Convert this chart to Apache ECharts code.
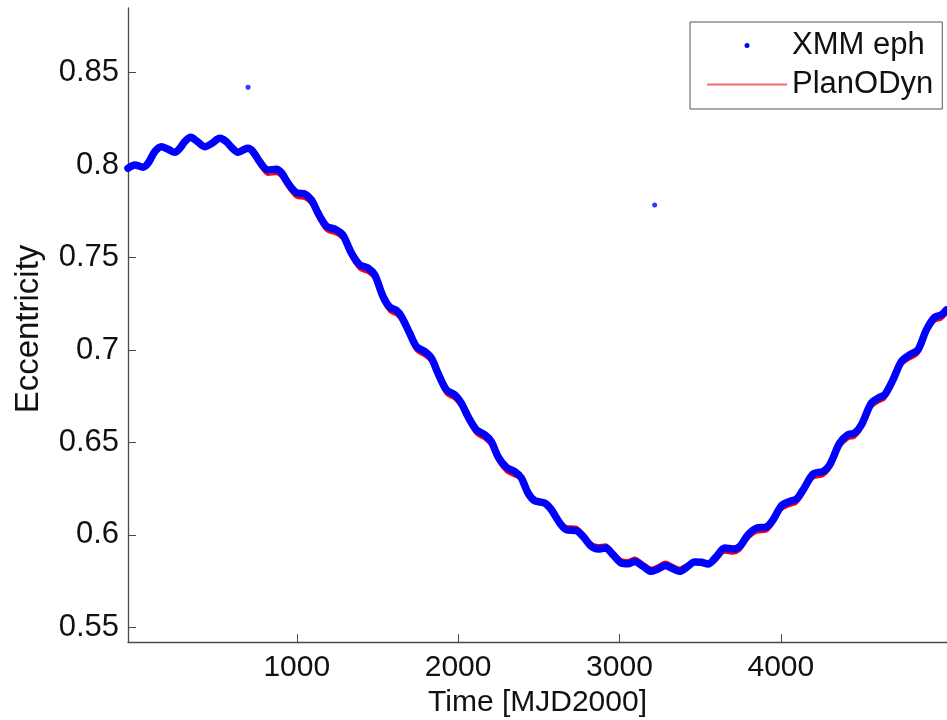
<!DOCTYPE html>
<html>
<head>
<meta charset="utf-8">
<script src="https://cdn.jsdelivr.net/npm/echarts@6/dist/echarts.min.js"></script>
<style>
html,body{margin:0;padding:0;background:#fff;}
#chart{width:947px;height:720px;}
</style>
</head>
<body>
<div id="chart"></div>
<script>
// Time [MJD2000]
var timeMJD = [-46,-4,47,78,120,161,202,244,275,306,343,378,430,475,522,564,595,636,667,698,729,770,822,874,905,946,998,1049,1091,1132,1184,1241,1285,1339,1390,1442,1483,1535,1576,1618,1649,1700,1742,1793,1835,1875,1927,1979,2020,2061,2113,2165,2206,2247,2299,2351,2392,2433,2475,2537,2578,2630,2671,2733,2774,2826,2867,2915,2960,3012,3053,3094,3146,3198,3239,3285,3332,3373,3415,3466,3508,3549,3597,3652,3704,3745,3797,3849,3911,3952,4004,4055,4097,4138,4200,4262,4303,4365,4417,4458,4500,4561,4613,4644,4695,4747,4799,4850,4902,4954,4995,5026];

// XMM ephemeris eccentricity
var xmmEcc = [0.7983,0.8001,0.7989,0.8010,0.8073,0.8100,0.8086,0.8070,0.8091,0.8127,0.8151,0.8132,0.8100,0.8118,0.8145,0.8127,0.8097,0.8070,0.8082,0.8091,0.8073,0.8019,0.7974,0.7978,0.7959,0.7902,0.7851,0.7844,0.7812,0.7740,0.7670,0.7652,0.7623,0.7524,0.7461,0.7443,0.7407,0.7289,0.7232,0.7214,0.7181,0.7091,0.7019,0.6992,0.6956,0.6875,0.6785,0.6758,0.6713,0.6641,0.6569,0.6542,0.6505,0.6424,0.6366,0.6343,0.6308,0.6227,0.6185,0.6172,0.6136,0.6064,0.6028,0.6023,0.5992,0.5938,0.5924,0.5929,0.5893,0.5848,0.5844,0.5857,0.5830,0.5803,0.5816,0.5835,0.5817,0.5803,0.5824,0.5854,0.5852,0.5843,0.5879,0.5929,0.5924,0.5938,0.6001,0.6037,0.6043,0.6082,0.6158,0.6181,0.6194,0.6244,0.6329,0.6343,0.6379,0.6497,0.6542,0.6551,0.6596,0.6713,0.6745,0.6758,0.6839,0.6938,0.6974,0.7001,0.7109,0.7178,0.7190,0.7217];

// PlanODyn propagated eccentricity
var planodynEcc = [0.7981,0.7999,0.7987,0.8008,0.8071,0.8098,0.8084,0.8068,0.8089,0.8125,0.8149,0.8130,0.8098,0.8116,0.8143,0.8125,0.8095,0.8068,0.8080,0.8089,0.8068,0.7995,0.7948,0.7952,0.7933,0.7876,0.7825,0.7818,0.7786,0.7714,0.7644,0.7626,0.7597,0.7498,0.7435,0.7417,0.7381,0.7263,0.7206,0.7188,0.7155,0.7065,0.6993,0.6966,0.6930,0.6849,0.6759,0.6732,0.6687,0.6615,0.6543,0.6516,0.6479,0.6398,0.6340,0.6317,0.6300,0.6222,0.6182,0.6172,0.6156,0.6084,0.6048,0.6043,0.6012,0.5958,0.5944,0.5949,0.5913,0.5868,0.5864,0.5877,0.5850,0.5823,0.5836,0.5855,0.5837,0.5823,0.5840,0.5854,0.5850,0.5838,0.5857,0.5905,0.5900,0.5914,0.5977,0.6013,0.6019,0.6058,0.6134,0.6157,0.6170,0.6220,0.6305,0.6319,0.6355,0.6473,0.6518,0.6527,0.6572,0.6689,0.6721,0.6734,0.6815,0.6914,0.6950,0.6977,0.7085,0.7154,0.7166,0.7193];

// Outlying ephemeris points
var outlierTime = [698, 3218];
var outlierEcc = [0.8421, 0.7785];

// Tick labels
var xTicks = [1000, 2000, 3000, 4000];
var yTicks = [0.55, 0.6, 0.65, 0.7, 0.75, 0.8, 0.85];

function pairs(xs, ys) {
  var out = [];
  for (var i = 0; i < xs.length; i++) out.push([xs[i], ys[i]]);
  return out;
}

var FONT = "'Liberation Sans', Arial, sans-serif";
var chart = echarts.init(document.getElementById('chart'), null, {renderer: 'canvas'});
chart.setOption({
  animation: false,
  backgroundColor: '#ffffff',
  textStyle: {fontFamily: FONT},
  grid: {left: 128, right: 0, top: 8, bottom: 78, outerBoundsMode: 'none', containLabel: false},
  legend: {
    left: 690, top: 22,
    orient: 'vertical',
    backgroundColor: '#ffffff',
    borderColor: '#555555',
    borderWidth: 1,
    padding: [8, 9, 9, 17],
    itemWidth: 80,
    itemHeight: 5,
    itemGap: 8,
    itemTextGap: 8,
    textStyle: {fontFamily: FONT, fontSize: 31, color: '#111111'},
    data: [
      {name: 'XMM eph', icon: 'circle'},
      {name: 'PlanODyn', icon: 'path://M0,0 L80,0 L80,1.8 L0,1.8 Z', itemStyle: {color: '#f07070'}}
    ]
  },
  xAxis: {
    type: 'value',
    min: -46, max: 5030,
    name: 'Time [MJD2000]',
    nameLocation: 'middle',
    nameGap: 46,
    nameTextStyle: {fontFamily: FONT, fontSize: 30, color: '#111111'},
    axisLine: {show: true, onZero: false, lineStyle: {color: '#4a4a4a', width: 1.3}},
    axisTick: {show: true, inside: true, length: 8, customValues: xTicks, lineStyle: {color: '#4a4a4a', width: 1}},
    axisLabel: {customValues: xTicks, fontFamily: FONT, fontSize: 30, color: '#111111', margin: 11,
      formatter: function (v) { return String(v); }},
    splitLine: {show: false}
  },
  yAxis: {
    type: 'value',
    min: 0.5421, max: 0.885,
    name: 'Eccentricity',
    nameLocation: 'middle',
    nameGap: 83,
    nameTextStyle: {fontFamily: FONT, fontSize: 33, color: '#111111', padding: [0, 8, 0, 0]},
    axisLine: {show: true, onZero: false, lineStyle: {color: '#4a4a4a', width: 1.3}},
    axisTick: {show: true, inside: true, length: 8, customValues: yTicks, lineStyle: {color: '#4a4a4a', width: 1}},
    axisLabel: {customValues: yTicks, fontFamily: FONT, fontSize: 31, color: '#111111', margin: 9,
      formatter: function (v) { return String(Math.round(v * 100) / 100); }},
    splitLine: {show: false}
  },
  series: [
    {
      name: 'PlanODyn',
      type: 'line',
      data: pairs(timeMJD, planodynEcc),
      symbol: 'none',
      smooth: 0.3,
      color: '#ff0000',
      lineStyle: {color: '#ff0000', width: 2.4, join: 'round', cap: 'round'},
      itemStyle: {color: '#ff0000'},
      z: 2
    },
    {
      name: 'XMM eph',
      type: 'line',
      data: pairs(timeMJD, xmmEcc),
      symbol: 'none',
      smooth: 0.3,
      color: '#0000ff',
      lineStyle: {color: '#0000ff', width: 7.5, join: 'round', cap: 'round'},
      itemStyle: {color: '#0000ff'},
      z: 3
    },
    {
      name: 'XMM eph',
      type: 'scatter',
      data: pairs(outlierTime, outlierEcc),
      symbol: 'circle',
      symbolSize: 5,
      itemStyle: {color: '#0000ff'},
      z: 4
    }
  ]
});
</script>
</body>
</html>
